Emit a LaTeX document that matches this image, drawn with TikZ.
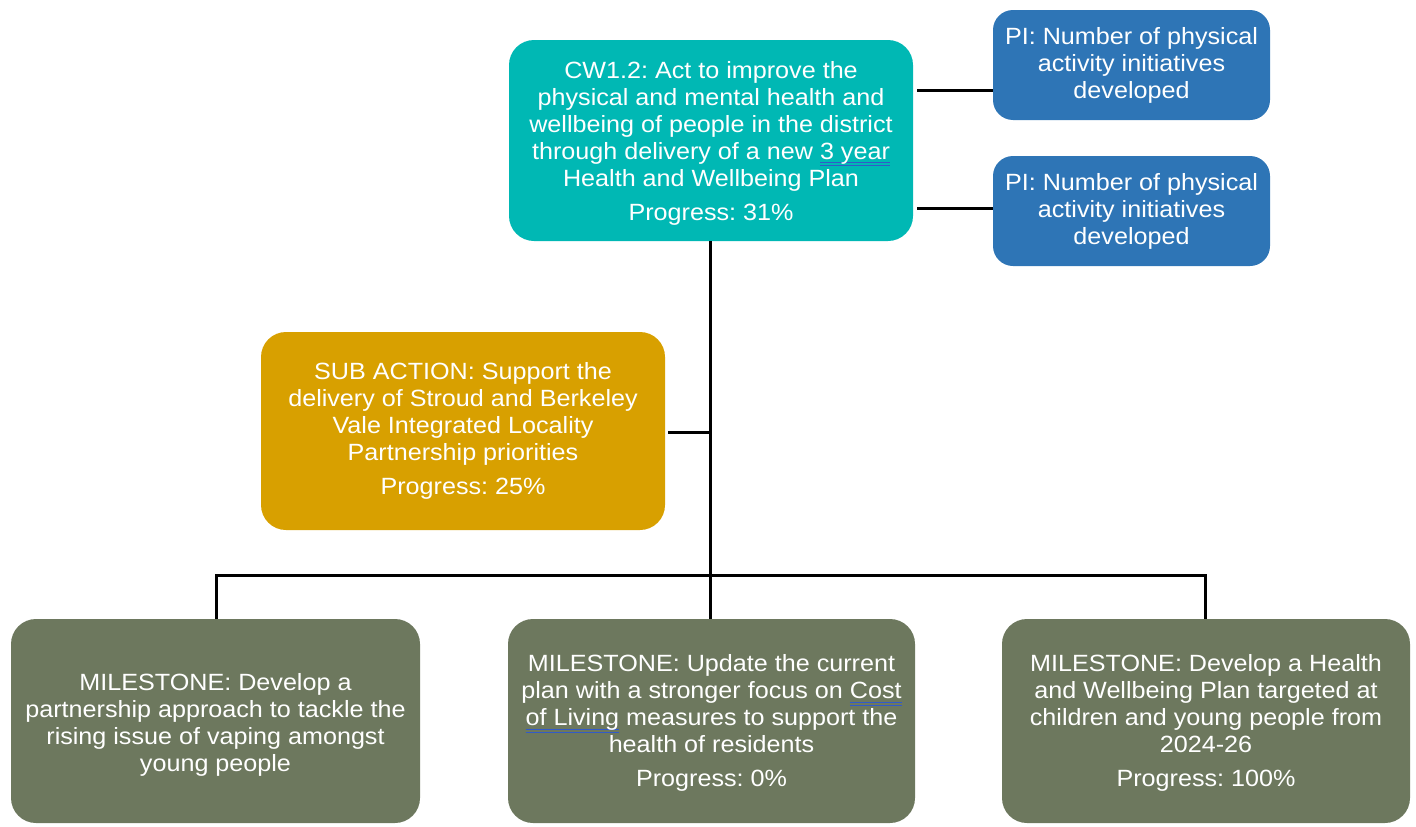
\documentclass[tikz,border=0pt]{standalone}
\usepackage{fontspec}
\setmainfont[FakeStretch=1.07]{Liberation Sans}
\definecolor{teal1}{RGB}{0,184,180}
\definecolor{blue1}{RGB}{46,117,182}
\definecolor{gold1}{RGB}{216,160,0}
\definecolor{olive1}{RGB}{109,120,94}
\definecolor{spell}{RGB}{50,90,200}
\newcommand\spellul[1]{\setbox0\hbox{#1}\rlap{\textcolor{spell}{\rule[-0.18em]{\wd0}{1pt}}}\rlap{\textcolor{spell}{\rule[-0.30em]{\wd0}{1pt}}}\box0}
\frenchspacing
\begin{document}
\begin{tikzpicture}[x=1pt,y=-1pt,
  box/.style={rounded corners=25pt, text=white, align=center, font=\fontsize{23.5}{27}\selectfont\frenchspacing, inner sep=0pt},
  conn/.style={line width=3pt, black}]
\useasboundingbox (0,0) rectangle (1416,827);
% boxes
\fill[teal1, rounded corners=25pt] (509,40) rectangle (913,241);
\node[box] (top) at (711,143) {CW1.2: Act to improve the\\physical and mental health and\\wellbeing of people in the district\\through delivery of a new \spellul{3 year}\\Health and Wellbeing Plan\\[7pt]Progress: 31\%};
\fill[blue1, rounded corners=20pt] (993,10) rectangle (1270,120);
\node[box] (pi1) at (1131.5,65) {PI: Number of physical\\activity initiatives\\developed};
\fill[blue1, rounded corners=20pt] (993,156) rectangle (1270,266);
\node[box] (pi2) at (1131.5,211) {PI: Number of physical\\activity initiatives\\developed};
\fill[gold1, rounded corners=25pt] (261,332) rectangle (665,530);
\node[box] (sub) at (463,431) {SUB ACTION: Support the\\delivery of Stroud and Berkeley\\Vale Integrated Locality\\Partnership priorities\\[7pt]Progress: 25\%};
\fill[olive1, rounded corners=25pt] (11,619) rectangle (420,823);
\node[box] (m1) at (215.5,725) {MILESTONE: Develop a\\partnership approach to tackle the\\rising issue of vaping amongst\\young people};
\fill[olive1, rounded corners=25pt] (508,619) rectangle (915,823);
\node[box] (m2) at (711.5,723) {MILESTONE: Update the current\\plan with a stronger focus on \spellul{Cost}\\\spellul{of Living}\ measures to support the\\health of residents\\[7pt]Progress: 0\%};
\fill[olive1, rounded corners=25pt] (1002,619) rectangle (1410,823);
\node[box] (m3) at (1206,723) {MILESTONE: Develop a Health\\and Wellbeing Plan targeted at\\children and young people from\\2024-26\\[7pt]Progress: 100\%};
% anchors
\coordinate (tb) at (710,241);
\coordinate (bar) at (710,575);
\coordinate (subj) at (710,432);
\coordinate (subr) at (668,432);
\coordinate (m1t) at (216,619);
\coordinate (m2t) at (710,619);
\coordinate (m3t) at (1205,619);
\coordinate (r1) at (917,90);
\coordinate (r2) at (917,208);
\coordinate (p1) at (993,90);
\coordinate (p2) at (993,208);
\draw[conn] (tb) -- (m2t);
\draw[conn] (subr) -- (subj);
\draw[conn] (m1t) |- (bar) -| (m3t);
\draw[conn] (r1) -- (p1);
\draw[conn] (r2) -- (p2);
\end{tikzpicture}
\end{document}
